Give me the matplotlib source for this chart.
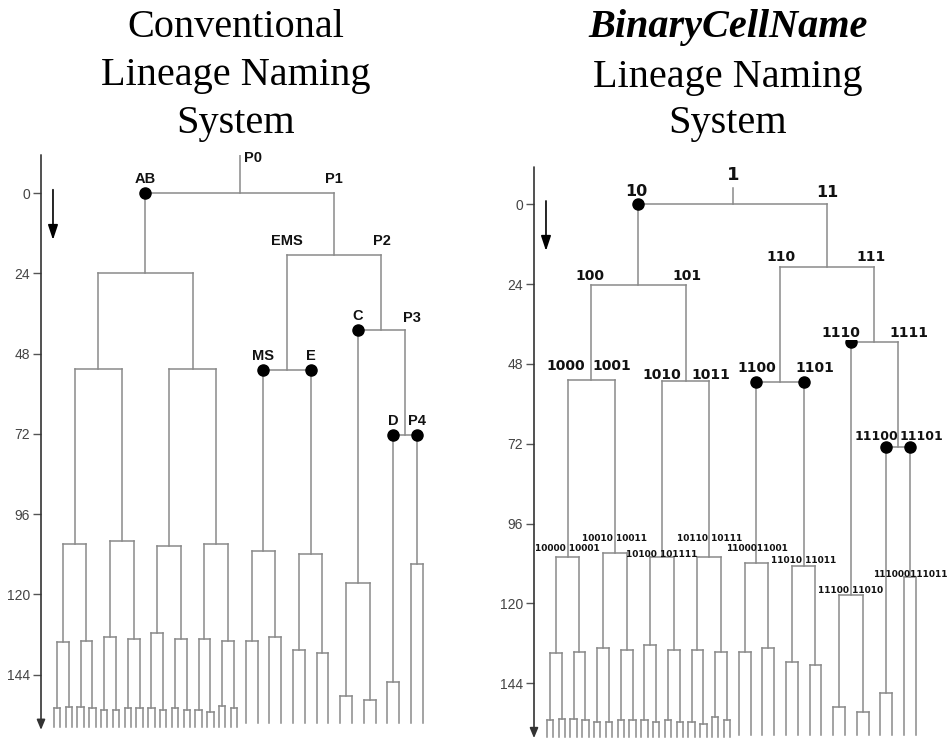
import matplotlib.pyplot as plt

# ---- split times (minutes) ----
# AB sublineage, level by level (left to right)
conv_ab = 23.9
conv_ab_4 = [52.6, 52.6]
conv_ab_8 = [104.9, 104.0, 105.4, 105.0]
conv_ab_16 = [134.1, 133.8, 132.6, 133.2, 131.6, 133.2, 133.2, 133.8]
conv_ab_32 = [153.9, 153.6, 153.6, 154.1, 154.6, 154.6, 154.1, 154.1,
              154.1, 154.6, 154.1, 154.6, 154.6, 155.2, 153.4, 154.1]
# P1 sublineage: P1, EMS, P2, MS, E, C, P3, D, P4
conv_p1 = [18.5, 52.9, 40.8, 106.9, 108.0, 116.6, 72.3, 146.1, 111.0]
# daughters of MS, E and C
conv_p1_late = [133.8, 132.6, 136.7, 137.5, 150.3, 151.7]
conv_root_top = -11.4
conv_leaf_end = [159.5, 158.5]   # AB leaves, other leaves

bin_ab = 24.3
bin_ab_4 = [52.8, 53.0]
bin_ab_8 = [106.0, 104.9, 106.0, 106.0]
bin_ab_16 = [135.0, 134.7, 133.5, 134.0, 132.5, 134.0, 134.0, 134.7]
bin_ab_32 = [155.0, 154.8, 154.8, 155.0, 155.7, 155.7, 155.0, 155.0,
             155.0, 155.7, 155.0, 155.7, 155.7, 156.2, 154.2, 155.0]
bin_p1 = [18.8, 53.5, 41.3, 107.9, 108.9, 117.5, 72.9, 147.0, 112.0]
bin_p1_late = [134.7, 133.5, 137.7, 138.5, 151.2, 152.7]
bin_root_top = -4.9
bin_leaf_end = [160.2, 159.6]

yticks = [0, 24, 48, 72, 96, 120, 144]

# node names follow the binary scheme (root '1', daughters +'0'/'1')
p1_nodes = ['11', '110', '111', '1100', '1101', '1110', '1111', '11110', '11111']
p1_late_nodes = ['11000', '11001', '11010', '11011', '11100', '11101']
dot_nodes = ['10', '1100', '1101', '1110', '11110', '11111']

conv_labels = {'10': 'AB', '11': 'P1', '110': 'EMS', '111': 'P2', '1100': 'MS',
               '1101': 'E', '1110': 'C', '1111': 'P3', '11110': 'D', '11111': 'P4'}
bin_labels = {'10': '10', '11': '11', '100': '100', '101': '101', '110': '110',
              '111': '111', '1000': '1000', '1001': '1001', '1010': '1010',
              '1011': '1011', '1100': '1100', '1101': '1101', '1110': '1110',
              '1111': '1111', '11110': '11100', '11111': '11101'}
bin_pair_labels = {'1000': '10000 10001', '1001': '10010 10011',
                   '1010': '10100 101111', '1011': '10110 10111',
                   '1100': '1100011001', '1101': '11010 11011',
                   '1110': '11100 11010', '11111': '111000111011'}


def build(ab, ab4, ab8, ab16, ab32, p1, p1late):
    split = {'1': 0.0, '10': ab}
    for i, v in enumerate(ab4):
        split['10' + format(i, '01b')] = v
    for i, v in enumerate(ab8):
        split['10' + format(i, '02b')] = v
    for i, v in enumerate(ab16):
        split['10' + format(i, '03b')] = v
    tiny = {'10' + format(i, '04b'): v for i, v in enumerate(ab32)}
    split.update(dict(zip(p1_nodes, p1)))
    split.update(dict(zip(p1_late_nodes, p1late)))
    return split, tiny


PX = 11.8    # pixels per leaf slot
LINE = '#8a8a8a'


def draw_tree(ax, split, tiny, root_top, leaf_end):
    xs = {}
    count = [0]

    def walk(name, t0):
        if name in tiny:
            x = count[0]
            count[0] += 1
            t = tiny[name]
            ax.plot([x, x], [t0, t], color=LINE, lw=1.1)
            ax.plot([x - 0.27, x + 0.27], [t, t], color=LINE, lw=1.1)
            for dx in (-0.27, 0.27):
                ax.plot([x + dx, x + dx], [t, leaf_end[0]], color=LINE, lw=1.1)
        elif name in split:
            t = split[name]
            xl = walk(name + '0', t)
            xr = walk(name + '1', t)
            x = (xl + xr) / 2
            ax.plot([xl, xr], [t, t], color=LINE, lw=1.1)
            ax.plot([x, x], [t0, t], color=LINE, lw=1.1)
        else:
            x = count[0]
            count[0] += 1
            ax.plot([x, x], [t0, leaf_end[1]], color=LINE, lw=1.1)
        xs[name] = x
        return x

    walk('1', root_top)
    for n in dot_nodes:
        ax.plot(xs[n], split[n[:-1]], 'o', color='black', ms=8, zorder=5)
    return xs


def setup_axes(rect, top, bottom):
    ax = fig.add_axes(rect)
    ax.set_xlim(-1.356, 32.46)
    ax.set_ylim(bottom, top)
    for s in ax.spines.values():
        s.set_visible(False)
    ax.set_xticks([])
    ax.set_yticks(yticks)
    ax.tick_params(axis='y', direction='out', length=6, width=1,
                   color='#555555', labelcolor='#444444', labelsize=10, pad=2)
    for lab in ax.get_yticklabels():
        lab.set_family('Liberation Sans')
    x0 = -1.356
    ax.annotate('', xy=(x0, 160.5), xytext=(x0, top),
                arrowprops=dict(arrowstyle='-|>,head_length=0.6,head_width=0.25',
                                color='#333333', lw=1.2, shrinkA=0, shrinkB=0),
                annotation_clip=False)
    ax.annotate('', xy=(-0.34, 14), xytext=(-0.34, -1),
                arrowprops=dict(arrowstyle='-|>,head_length=0.9,head_width=0.3',
                                color='black', lw=1.2, shrinkA=0, shrinkB=0))
    return ax


fig = plt.figure(figsize=(9.48, 7.44), dpi=100)

# ---------------- left: conventional names ----------------
axl = setup_axes([41 / 948, 9.1 / 744, 399 / 948, 580 / 744], conv_root_top, 162)
split, tiny = build(conv_ab, conv_ab_4, conv_ab_8, conv_ab_16, conv_ab_32,
                    conv_p1, conv_p1_late)
xs = draw_tree(axl, split, tiny, conv_root_top, conv_leaf_end)
lab_font = dict(family='Liberation Sans', fontweight='bold', fontsize=10.5,
                ha='center', va='center', color='#111111')
for n, txt in conv_labels.items():
    dx, dy = (7, -3.4) if n == '1111' else (0, -4.1)
    axl.text(xs[n] + dx / PX, split[n[:-1]] + dy, txt, **lab_font)
axl.text(xs['1'] + 4 / PX, -10.6, 'P0', family='Liberation Sans',
         fontweight='bold', fontsize=10.5, ha='left', va='center', color='#111111')

# ---------------- right: BinaryCellName ----------------
axr = setup_axes([534 / 948, 4.2 / 744, 399 / 948, 572.8 / 744], -11.2, 161)
split, tiny = build(bin_ab, bin_ab_4, bin_ab_8, bin_ab_16, bin_ab_32,
                    bin_p1, bin_p1_late)
xs = draw_tree(axr, split, tiny, bin_root_top, bin_leaf_end)
bin_offsets = {'10': (-2, -3.8), '11': (0, -3.4), '100': (-1, -2.7), '101': (1, -2.7),
               '110': (1, -2.8), '111': (-3, -2.8), '1000': (-2, -4.2),
               '1001': (-3, -4.2), '1010': (0, -1.7), '1011': (2, -1.7),
               '1100': (0, -4.4), '1101': (11, -4.4), '1110': (-10, -2.7),
               '1111': (11, -2.7), '11110': (-10, -3.0), '11111': (12, -3.0)}
for n, txt in bin_labels.items():
    dx, dy = bin_offsets[n]
    size = 11.5 if n in ('10', '11') else (9 if n in ('11110', '11111') else 10)
    box = dict(facecolor='white', edgecolor='none', pad=0.3) if n == '1110' else None
    axr.text(xs[n] + dx / PX, split[n[:-1]] + dy, txt, family='DejaVu Sans',
             fontweight='bold', fontsize=size, ha='center', va='center',
             color='#111111', zorder=6, bbox=box)
axr.text(xs['1'], -8.8, '1', family='DejaVu Sans', fontweight='bold',
         fontsize=13, ha='center', va='center', color='#111111')
pair_dy = {'1000': -2.4, '1001': -4.3, '1010': -0.7, '1011': -5.4,
           '1100': -4.3, '1101': -1.7, '1110': -1.5, '11111': -0.8}
for n, txt in bin_pair_labels.items():
    axr.text(xs[n], split[n] + pair_dy[n], txt, family='DejaVu Sans',
             fontweight='bold', fontsize=6.5, ha='center', va='center',
             color='#111111', zorder=6)

# ---------------- titles ----------------
title_font = dict(family='Liberation Serif', fontsize=29, ha='center', va='baseline')
for txt, y in zip(['Conventional', 'Lineage Naming', 'System'], [37, 85, 133]):
    fig.text(236 / 948, 1 - y / 744, txt, **title_font)
fig.text(728 / 948, 1 - 37 / 744, 'BinaryCellName', fontweight='bold',
         style='italic', **title_font)
for txt, y in zip(['Lineage Naming', 'System'], [87, 133]):
    fig.text(728 / 948, 1 - y / 744, txt, **title_font)

fig.savefig('out.png', dpi=100)
